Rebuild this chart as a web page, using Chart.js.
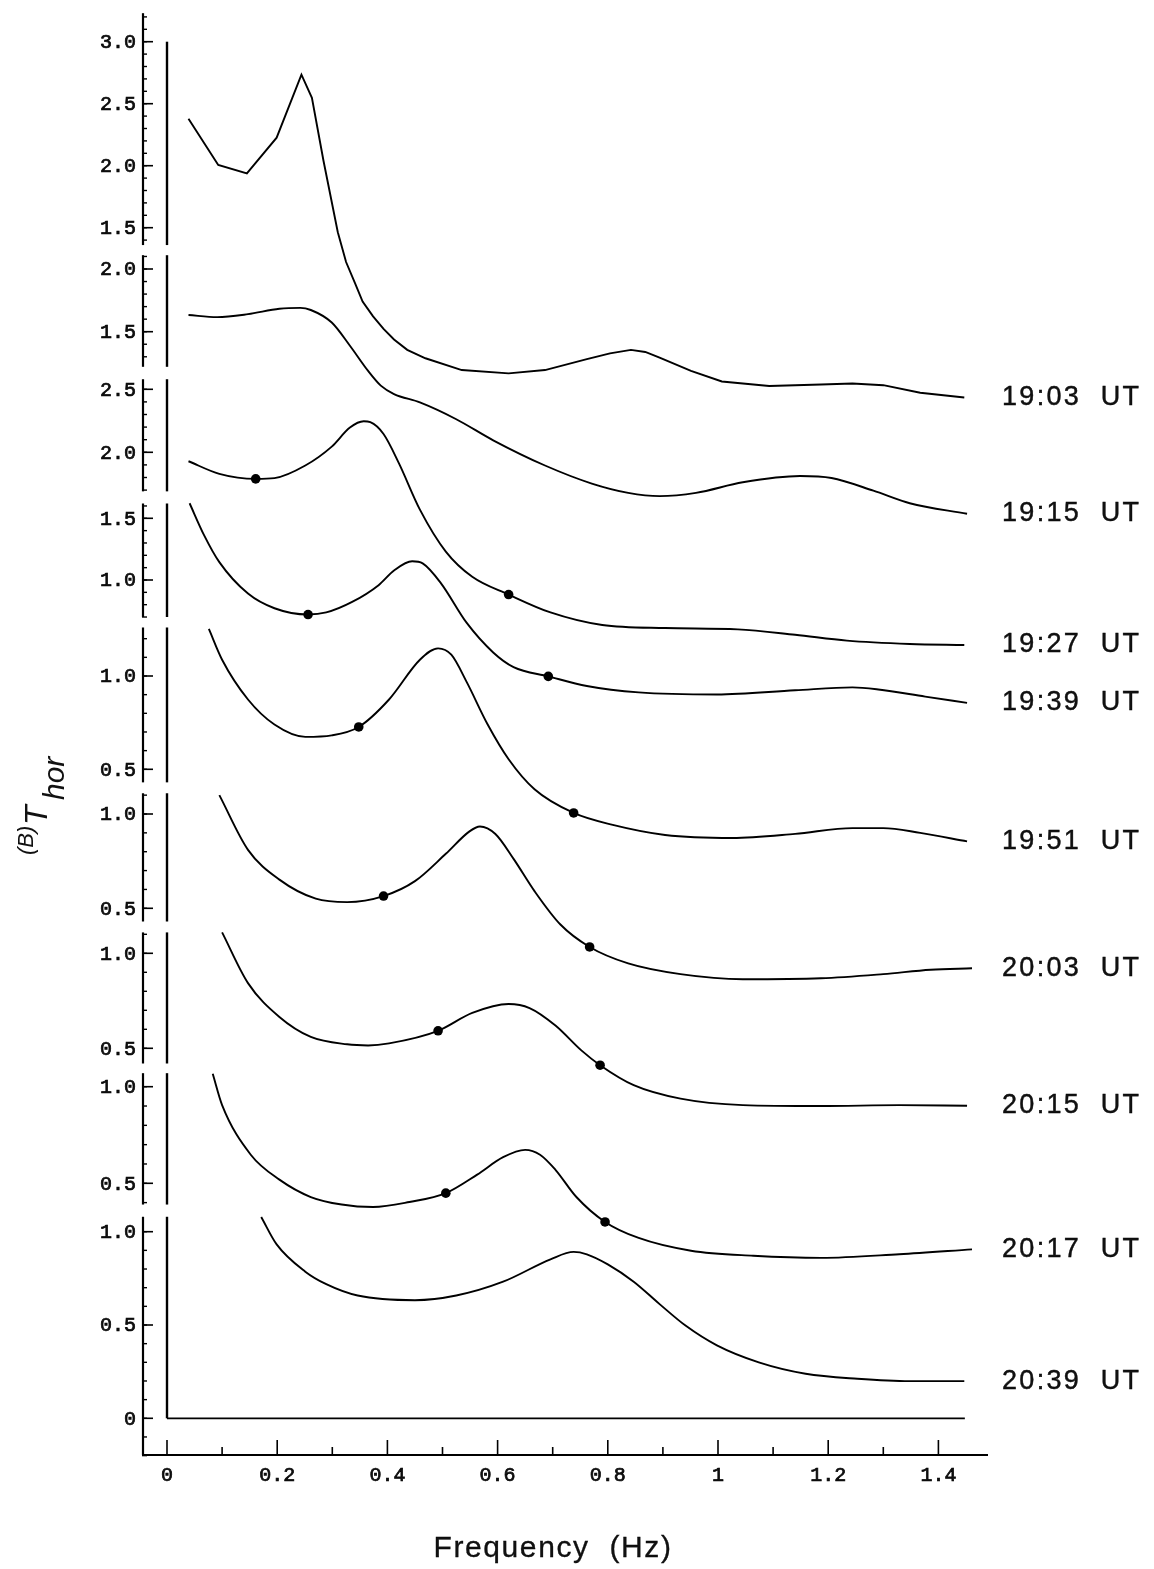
<!DOCTYPE html>
<html>
<head>
<meta charset="utf-8">
<script src="https://cdn.jsdelivr.net/npm/chart.js@4.4.1/dist/chart.umd.min.js"></script>
<style>
html,body{margin:0;padding:0;background:#fff;}
#wrap{width:1154px;height:1569px;position:relative;}
</style>
</head>
<body>
<div id="wrap"><canvas id="c"></canvas></div>
<script>
// ---------------- DATA ----------------
const seriesLabels = ['19:03  UT','19:15  UT','19:27  UT','19:39  UT','19:51  UT','20:03  UT','20:15  UT','20:17  UT','20:39  UT'];

const f1903 = [0.039,0.093,0.145,0.199,0.244,0.263,0.284,0.310,0.325,0.341,0.355,0.374,0.393,0.412,0.436,0.469,0.535,0.620,0.686,0.762,0.804,0.842,0.868,0.894,0.951,1.007,1.093,1.187,1.244,1.300,1.367,1.447];
const t1903 = [2.378,2.006,1.938,2.226,2.734,2.548,2.040,1.463,1.223,1.056,0.904,0.785,0.684,0.599,0.515,0.447,0.352,0.325,0.352,0.440,0.486,0.515,0.498,0.453,0.345,0.260,0.223,0.236,0.244,0.230,0.169,0.131];

const f1915 = [0.039,0.091,0.147,0.204,0.242,0.261,0.299,0.332,0.365,0.388,0.412,0.459,0.525,0.592,0.686,0.771,0.837,0.894,0.960,1.045,1.149,1.206,1.282,1.348,1.452];
const t1915 = [1.633,1.616,1.640,1.683,1.690,1.673,1.573,1.388,1.187,1.070,1.003,0.936,0.802,0.634,0.433,0.289,0.215,0.189,0.215,0.299,0.349,0.333,0.232,0.132,0.048];

const f1927 = [0.039,0.095,0.161,0.195,0.251,0.299,0.332,0.357,0.369,0.393,0.421,0.459,0.506,0.554,0.620,0.696,0.790,0.904,1.036,1.140,1.234,1.348,1.447];
const t1927 = [1.929,1.829,1.789,1.795,1.895,2.045,2.196,2.246,2.239,2.145,1.912,1.545,1.212,1.012,0.871,0.729,0.629,0.605,0.595,0.552,0.505,0.479,0.471];
const dotF1927 = [0.161,0.620];
const dotT1927 = [1.789,0.871];

const f1939 = [0.041,0.067,0.095,0.147,0.195,0.256,0.289,0.336,0.384,0.412,0.445,0.464,0.497,0.544,0.592,0.629,0.692,0.762,0.856,0.998,1.140,1.244,1.291,1.376,1.452];
const t1939 = [1.622,1.366,1.145,0.890,0.771,0.720,0.737,0.822,0.958,1.077,1.152,1.135,0.975,0.652,0.413,0.294,0.219,0.141,0.089,0.072,0.106,0.130,0.113,0.055,0.004];
const dotF1939 = [0.256,0.692];
const dotT1939 = [0.720,0.219];

const f1951 = [0.076,0.100,0.147,0.195,0.251,0.299,0.348,0.403,0.459,0.492,0.516,0.544,0.582,0.620,0.667,0.738,0.809,0.904,1.026,1.140,1.244,1.300,1.367,1.452];
const t1951 = [1.252,1.087,0.874,0.740,0.674,0.682,0.727,0.874,1.087,1.148,1.114,0.967,0.740,0.554,0.393,0.266,0.202,0.148,0.132,0.154,0.185,0.185,0.159,0.114];
const dotF1951 = [0.348,0.738];
const dotT1951 = [0.727,0.266];

const f2003 = [0.095,0.147,0.204,0.270,0.327,0.393,0.450,0.506,0.549,0.568,0.596,0.629,0.667,0.714,0.767,0.837,0.932,1.045,1.187,1.300,1.386,1.461];
const t2003 = [1.100,0.810,0.652,0.551,0.533,0.565,0.644,0.789,0.908,0.934,0.894,0.762,0.591,0.414,0.295,0.208,0.151,0.124,0.129,0.151,0.174,0.182];
const dotF2003 = [0.393,0.767];
const dotT2003 = [0.565,0.295];

const f2015 = [0.100,0.147,0.204,0.261,0.327,0.365,0.403,0.492,0.554,0.620,0.658,0.705,0.752,0.786,0.847,0.932,1.045,1.187,1.329,1.452];
const t2015 = [1.110,0.843,0.665,0.560,0.521,0.515,0.526,0.592,0.686,0.733,0.712,0.620,0.489,0.411,0.306,0.235,0.201,0.196,0.201,0.198];
const dotF2015 = [0.492,0.786];
const dotT2015 = [0.592,0.411];

const f2017 = [0.083,0.100,0.152,0.204,0.261,0.317,0.374,0.440,0.506,0.563,0.610,0.650,0.677,0.705,0.743,0.795,0.856,0.951,1.064,1.187,1.329,1.461];
const t2017 = [1.067,0.905,0.648,0.519,0.429,0.390,0.377,0.403,0.449,0.545,0.635,0.673,0.648,0.570,0.429,0.300,0.217,0.151,0.125,0.114,0.133,0.158];
const dotF2017 = [0.506,0.795];
const dotT2017 = [0.449,0.300];

const f2039 = [0.171,0.199,0.251,0.289,0.346,0.450,0.525,0.610,0.696,0.738,0.762,0.800,0.847,0.894,0.941,0.998,1.074,1.159,1.253,1.348,1.447];
const t2039 = [1.079,0.932,0.786,0.719,0.658,0.633,0.658,0.732,0.852,0.892,0.879,0.825,0.732,0.612,0.497,0.391,0.300,0.239,0.212,0.199,0.199];

// tick labels of each stacked panel axis (top to bottom)
const ticksP1 = [3.0,2.5,2.0,1.5];
const ticksP2 = [2.0,1.5];
const ticksP3 = [2.5,2.0];
const ticksP4 = [1.5,1.0];
const ticksP5 = [1.0,0.5];
const ticksP6 = [1.0,0.5];
const ticksP7 = [1.0,0.5];
const ticksP8 = [1.0,0.5];
const ticksP9 = [1.0,0.5,0];
// value range covered by each panel's axis segment [low, high]
const rangeP1 = [1.36,3.23];
const rangeP2 = [1.22,2.11];
const rangeP3 = [1.69,2.58];
const rangeP4 = [0.70,1.62];
const rangeP5 = [0.43,1.26];
const rangeP6 = [0.43,1.11];
const rangeP7 = [0.42,1.11];
const rangeP8 = [0.39,1.07];
const rangeP9 = [-0.20,1.08];

const xTicksMajor = [0,0.2,0.4,0.6,0.8,1.0,1.2,1.4];
const xTicksMinor = [0.1,0.3,0.5,0.7,0.9,1.1,1.3];

// ---------------- LAYOUT (pixels) ----------------
const AREA = {left:143, right:988, top:10, bottom:1455};
const X_ZERO_PX = 167, X_PX_PER_HZ = 551;
const PANEL_ZERO_PX = [413.7,519.8,704.3,703.4,862.6,1002.6,1143.3,1279.9,1418.3];
const PANEL_PX_PER_UNIT = [124,125.4,126,123.4,186.6,188.6,190,193.2,186.6];

const panelTicks = [ticksP1,ticksP2,ticksP3,ticksP4,ticksP5,ticksP6,ticksP7,ticksP8,ticksP9];
const panelRanges = [rangeP1,rangeP2,rangeP3,rangeP4,rangeP5,rangeP6,rangeP7,rangeP8,rangeP9];

const curves = [
  [f1903,t1903,null,null],
  [f1915,t1915,null,null],
  [f1927,t1927,dotF1927,dotT1927],
  [f1939,t1939,dotF1939,dotT1939],
  [f1951,t1951,dotF1951,dotT1951],
  [f2003,t2003,dotF2003,dotT2003],
  [f2015,t2015,dotF2015,dotT2015],
  [f2017,t2017,dotF2017,dotT2017],
  [f2039,t2039,null,null]
];

const W = 1154, H = 1569;
const scales = {
  x: {type:'linear', display:false,
      min:(AREA.left - X_ZERO_PX)/X_PX_PER_HZ,
      max:(AREA.right - X_ZERO_PX)/X_PX_PER_HZ}
};
PANEL_ZERO_PX.forEach((z,i) => {
  const s = PANEL_PX_PER_UNIT[i];
  scales['p'+(i+1)] = {type:'linear', display:false, bounds:'data',
    min:(z - AREA.bottom)/s, max:(z - AREA.top)/s};
});

const datasets = [];
const lineIndex = [];
curves.forEach((c,i) => {
  lineIndex.push(datasets.length);
  datasets.push({
    label: seriesLabels[i],
    data: c[0].map((f,k) => ({x:f, y:c[1][k]})),
    yAxisID: 'p'+(i+1),
    borderColor:'#000', borderWidth:1.9,
    pointRadius:0, fill:false, clip:false,
    tension:0,
    cubicInterpolationMode: i === 0 ? 'default' : 'monotone'
  });
  if (c[2]) {
    datasets.push({
      label: seriesLabels[i] + ' markers',
      data: c[2].map((f,k) => ({x:f, y:c[3][k]})),
      yAxisID: 'p'+(i+1),
      showLine:false, pointRadius:4.8, pointHoverRadius:4.8,
      pointBackgroundColor:'#000', pointBorderColor:'#000', pointBorderWidth:0,
      clip:false
    });
  }
});

const figurePlugin = {
  id:'figure',
  afterDatasetsDraw(chart){
    const ctx = chart.ctx, xs = chart.scales.x, ca = chart.chartArea;
    const xOuter = ca.left, xInner = xs.getPixelForValue(0);
    const ln = (x1,y1,x2,y2,w) => { ctx.lineWidth = w; ctx.beginPath(); ctx.moveTo(x1,y1); ctx.lineTo(x2,y2); ctx.stroke(); };
    const txt = (s,x,y,sw) => { ctx.fillText(s,x,y); if (sw) { ctx.lineWidth = sw; ctx.strokeText(s,x,y); } };
    ctx.save();
    ctx.strokeStyle = '#000'; ctx.fillStyle = '#111'; ctx.lineCap = 'butt';
    const monoFont = '20px "Liberation Mono", "DejaVu Sans Mono", monospace';
    // stacked panel axes
    panelTicks.forEach((tk,i) => {
      const ys = chart.scales['p'+(i+1)];
      const [lo,hi] = panelRanges[i];
      const yTop = ys.getPixelForValue(hi);
      const yBot = i === 8 ? ca.bottom : ys.getPixelForValue(lo);
      ln(xOuter, yTop, xOuter, yBot, 2.2);
      const innerTop = i === 0 ? ys.getPixelForValue(tk[0]) : yTop;
      const innerBot = i === 8 ? ys.getPixelForValue(0) : yBot;
      ln(xInner, innerTop, xInner, innerBot, 2.4);
      for (let k = Math.ceil(lo*10 - 1e-6); k <= Math.floor(hi*10 + 1e-6); k++) {
        const y = ys.getPixelForValue(k/10);
        ln(xOuter-1, y, xOuter+4, y, 1.4);
      }
      ctx.font = monoFont;
      ctx.textAlign = 'right'; ctx.textBaseline = 'middle';
      tk.forEach(v => {
        const y = ys.getPixelForValue(v);
        ctx.strokeStyle = '#000';
        ln(xOuter, y, xOuter+10, y, 1.6);
        txt(v === 0 ? '0' : v.toFixed(1), xOuter-7, y+1, 0.7);
      });
    });
    // panel 9 zero line
    const y9 = chart.scales.p9;
    ln(xInner, y9.getPixelForValue(0), xs.getPixelForValue(1.448), y9.getPixelForValue(0), 1.8);
    // x axis
    ln(xOuter, ca.bottom, ca.right, ca.bottom, 2);
    xTicksMajor.forEach(v => { const x = xs.getPixelForValue(v); ln(x, ca.bottom, x, ca.bottom-15, 1.6); });
    xTicksMinor.forEach(v => { const x = xs.getPixelForValue(v); ln(x, ca.bottom, x, ca.bottom-8, 1.6); });
    ctx.font = monoFont;
    ctx.textAlign = 'center'; ctx.textBaseline = 'middle';
    xTicksMajor.forEach(v => {
      const x = xs.getPixelForValue(v);
      const s = v === 0 ? '0' : (v === 1 ? '1' : v.toFixed(1));
      txt(s, x, ca.bottom + 21, 0.7);
    });
    // series labels at the end of each curve
    ctx.font = '27px "Liberation Sans", Arial, sans-serif';
    ctx.textAlign = 'left'; ctx.textBaseline = 'middle';
    try { ctx.letterSpacing = '2.3px'; } catch(e) {}
    lineIndex.forEach((di,i) => {
      const pts = chart.getDatasetMeta(di).data;
      const last = pts[pts.length-1];
      txt(seriesLabels[i], 1002, last.y, 0.4);
    });
    // x title
    ctx.font = '30px "Liberation Sans", Arial, sans-serif';
    try { ctx.letterSpacing = '1.6px'; } catch(e) {}
    ctx.textAlign = 'center'; ctx.textBaseline = 'alphabetic';
    txt('Frequency  (Hz)', 553, 1557, 0.3);
    try { ctx.letterSpacing = '0px'; } catch(e) {}
    // y title (rotated)
    ctx.save();
    ctx.rotate(-Math.PI/2);
    ctx.textAlign = 'left'; ctx.textBaseline = 'alphabetic';
    ctx.font = 'italic 22px "Liberation Sans", Arial, sans-serif';
    ctx.fillText('(B)', -855, 33);
    ctx.font = 'italic 32px "Liberation Sans", Arial, sans-serif';
    ctx.fillText('T', -825, 47);
    ctx.font = 'italic 30px "Liberation Sans", Arial, sans-serif';
    ctx.fillText('hor', -800, 64);
    ctx.restore();
    ctx.restore();
  }
};

new Chart(document.getElementById('c'), {
  type:'line',
  data:{datasets},
  options:{
    responsive:true, maintainAspectRatio:false, animation:false,
    layout:{padding:{left:AREA.left, right:W-AREA.right, top:AREA.top, bottom:H-AREA.bottom}},
    scales,
    plugins:{legend:{display:false}, tooltip:{enabled:false}},
    events:[]
  },
  plugins:[figurePlugin]
});
</script>
</body>
</html>
